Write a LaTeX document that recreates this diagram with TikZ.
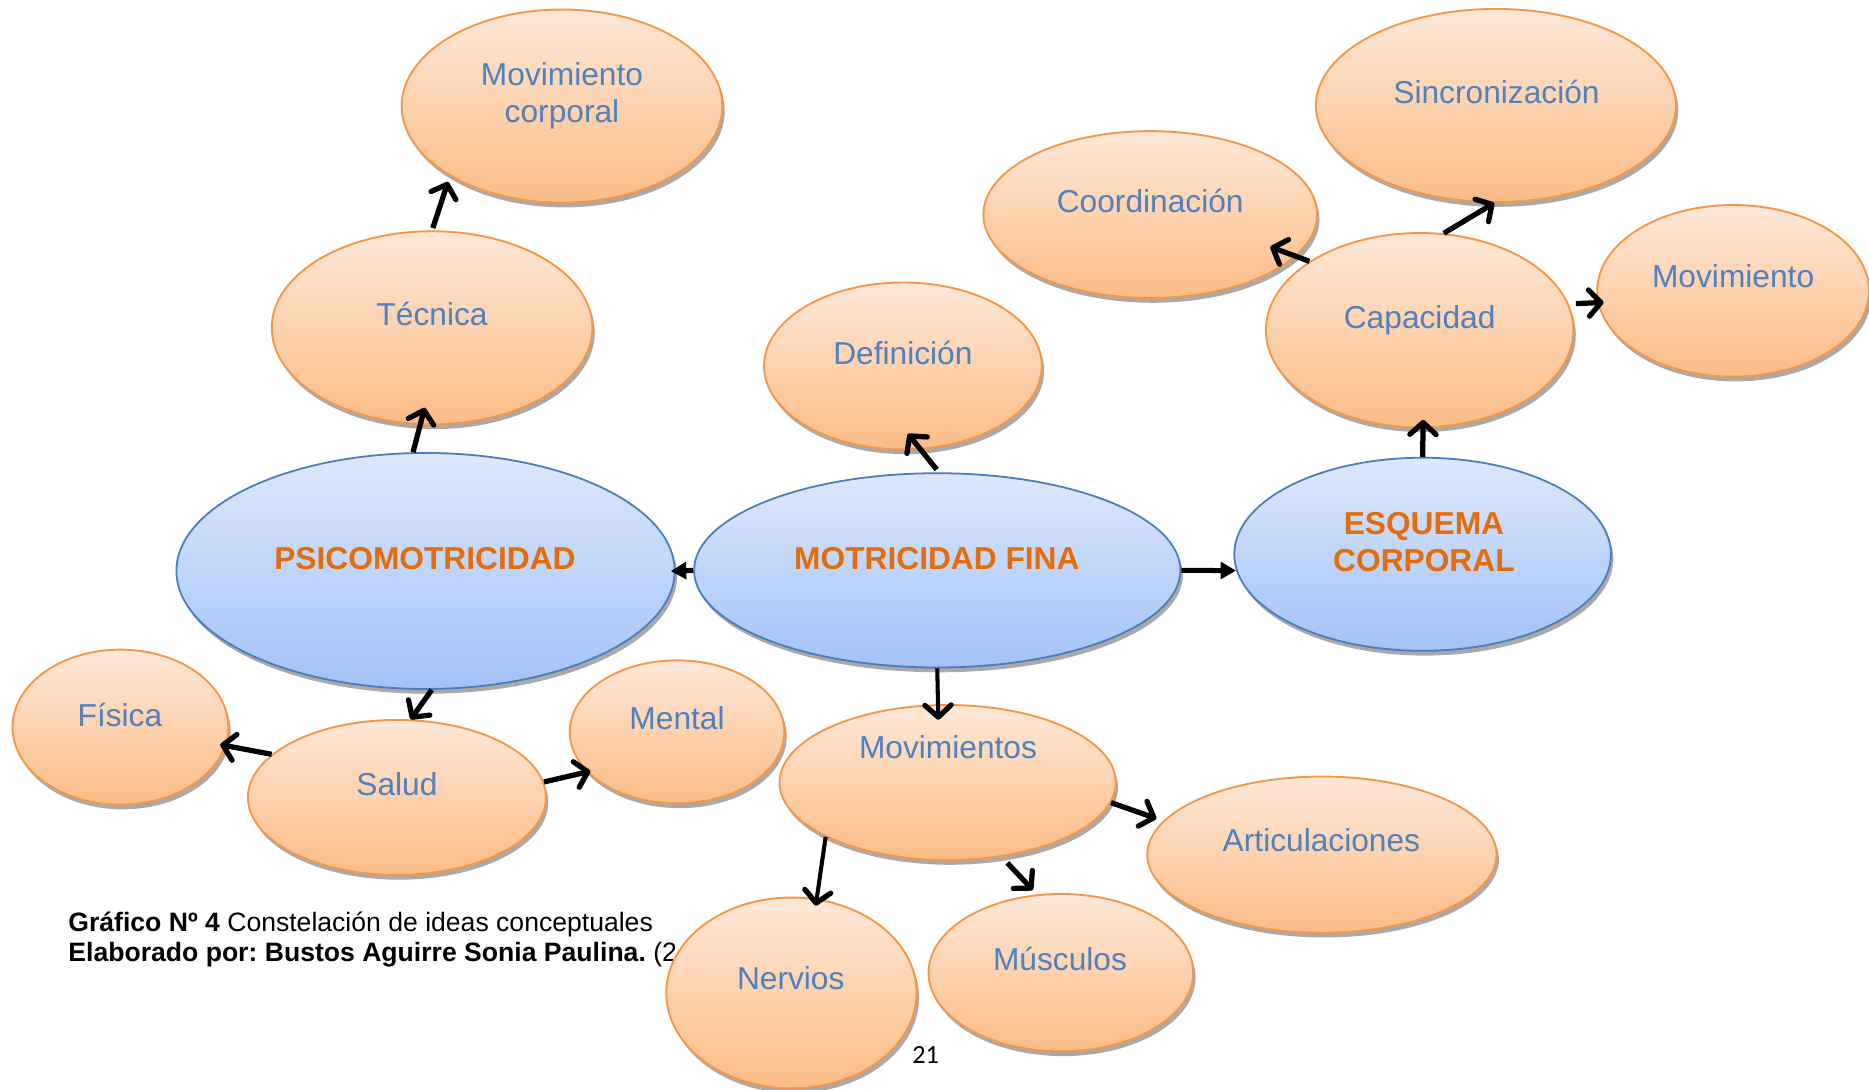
\documentclass[tikz,border=0pt]{standalone}
\usepackage{fontspec}
\setmainfont{Liberation Sans}
\newfontfamily\pagefont{Carlito}
\usetikzlibrary{shapes.geometric,arrows.meta,shadows}
\definecolor{orT}{HTML}{FEE8D8}
\definecolor{orBt}{HTML}{FBBC86}
\definecolor{orLine}{HTML}{F79646}
\definecolor{blT}{HTML}{DEE8FB}
\definecolor{blBt}{HTML}{A2C2F7}
\definecolor{blLine}{HTML}{4A7EBB}
\definecolor{txBlue}{HTML}{4F81BD}
\definecolor{txOrange}{HTML}{E46C0A}
\tikzset{
  shad/.style={drop shadow={shadow xshift=2pt,shadow yshift=-4pt,fill=black!42,opacity=0.8}},
  oell/.style={ellipse,inner sep=0pt,draw=orLine,line width=1.6pt,top color=orT,bottom color=orBt,shad},
  bell/.style={ellipse,inner sep=0pt,draw=blLine,line width=1.5pt,top color=blT,bottom color=blBt,shad},
  lbl/.style={text=txBlue,font=\fontsize{26.6pt}{31pt}\selectfont,align=center,anchor=base,inner sep=0pt},
  blbl/.style={text=txOrange,font=\bfseries\fontsize{26.6pt}{31.6pt}\selectfont,align=center,anchor=base,inner sep=0pt},
  captxt/.style={font=\frenchspacing\fontsize{22.3pt}{26pt}\selectfont,anchor=base west,inner sep=0pt},
  arr/.style={line width=4.4pt,-{Straight Barb[length=10pt,width=22pt,line width=4.4pt,round]}},
  tarr/.style={line width=4.2pt,-{Triangle[length=13pt,width=14pt]}}
}
\begin{document}
\begin{tikzpicture}[x=1pt,y=-1pt]
\useasboundingbox (0,0) rectangle (1568,913.7);
% top-left branch
\node[oell,minimum width=269pt,minimum height=162pt] (movc) at (471.5,89) {};
\node[lbl] (movcT) at (471.5,103) {Movimiento\\corporal};
\node[oell,minimum width=269pt,minimum height=162pt] (tec) at (362.5,275) {};
\node[lbl] (tecT) at (362.5,272.7) {Técnica};
% Definicion
\node[oell,minimum width=233pt,minimum height=140pt] (def) at (757.5,307) {};
\node[lbl] (defT) at (757.5,305.4) {Definición};
% top-right branch
\node[oell,minimum width=280pt,minimum height=140pt] (coo) at (965,180) {};
\node[lbl] (cooT) at (965,178) {Coordinación};
\node[oell,minimum width=302pt,minimum height=162pt] (sin) at (1255,88.5) {};
\node[lbl] (sinT) at (1255.5,87.2) {Sincronización};
\node[oell,minimum width=258pt,minimum height=163pt] (cap) at (1191,277) {};
\node[lbl] (capT) at (1191,275.4) {Capacidad};
\node[oell,minimum width=228pt,minimum height=144pt] (mov) at (1454,244) {};
\node[lbl] (movT) at (1454,241) {Movimiento};
% main concepts
\node[bell,minimum width=418pt,minimum height=198pt] (psi) at (357,479) {};
\node[blbl] (psiT) at (356.5,477.6) {PSICOMOTRICIDAD};
\node[bell,minimum width=408pt,minimum height=163pt] (mfi) at (786.3,478.5) {};
\node[blbl] (mfiT) at (786,477.6) {MOTRICIDAD FINA};
\node[bell,minimum width=316pt,minimum height=162pt] (esq) at (1193.5,465) {};
\node[blbl] (esqT) at (1194.6,479.6) {ESQUEMA\\CORPORAL};
% bottom-left branch
\node[oell,minimum width=181pt,minimum height=130pt] (fis) at (101,610) {};
\node[lbl] (fisT) at (100.6,609.6) {Física};
\node[oell,minimum width=250pt,minimum height=130pt] (sal) at (333,669) {};
\node[lbl] (salT) at (333,667.2) {Salud};
\node[oell,minimum width=180pt,minimum height=120pt] (men) at (568,614) {};
\node[lbl] (menT) at (568,611.8) {Mental};
% bottom-middle branch
\node[oell,minimum width=282pt,minimum height=130pt] (mvs) at (795,656.5) {};
\node[lbl] (mvsT) at (795.3,636) {Movimientos};
\node[oell,minimum width=293pt,minimum height=131pt] (art) at (1109,717) {};
\node[lbl] (artT) at (1108.6,714.5) {Articulaciones};
% caption
\node[captxt] (cap1) at (57.2,781.6) {\textbf{Gráfico Nº 4} Constelación de ideas conceptuales};
\node[captxt] (cap2) at (57.2,806.8) {\textbf{Elaborado por: Bustos Aguirre Sonia Paulina.} (2};
\node[oell,minimum width=210pt,minimum height=160pt] (ner) at (664,833) {};
\node[lbl] (nerT) at (663.4,830.5) {Nervios};
\node[oell,minimum width=222pt,minimum height=132pt] (mus) at (890,816) {};
\node[lbl] (musT) at (889.3,814.6) {Músculos};
\node[font=\pagefont\fontsize{22pt}{26pt}\selectfont,anchor=base,inner sep=0pt] (pg) at (776.5,892) {21};
% connectors
\draw[arr,shorten <=2pt,shorten >=5pt] (tec.90) -- (movc.212);
\draw[arr,shorten >=-15pt] (psi.96) -- (tec.263);
\draw[arr,shorten <=3pt,shorten >=-17pt] (mfi.89) -- (def.282);
\draw[tarr,shorten >=-4pt] (mfi.180) -- (psi.0);
\draw[tarr] (mfi.0) -- (esq.185);
\draw[arr,shorten >=-7pt] (esq.90) -- (cap.272);
\draw[arr,shorten >=-23pt] (cap.148) -- (coo.344);
\draw[arr] (cap.76) -- (sin.269);
\draw[arr,shorten <=6pt,shorten >=-5pt] (cap.10) -- (mov.185);
\draw[arr] (psi.273) -- (sal.80);
\draw[arr,shorten >=-5pt] (sal.161) -- (fis.350);
\draw[arr,shorten >=-3pt] (sal.6) -- (men.204);
\draw[arr,line width=3.4pt,shorten >=-13pt] (mfi.270) -- (mvs.97);
\draw[arr,line width=3.4pt,shorten >=-6pt] (mvs.204) -- (ner.75);
\draw[arr,shorten >=6pt] (mvs.353) -- (art.168);
\draw[arr,shorten <=7pt,shorten >=5pt] (mvs.306) -- (mus.107);
\end{tikzpicture}
\end{document}
